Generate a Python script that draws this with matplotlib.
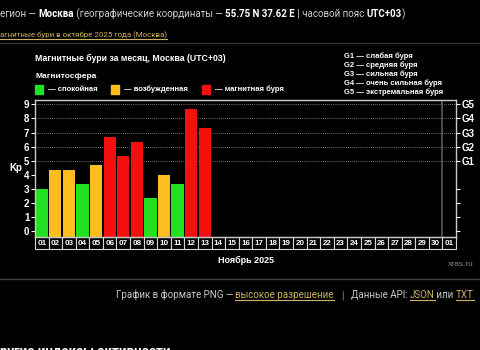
import matplotlib
matplotlib.use("Agg")
import matplotlib.pyplot as plt
from matplotlib.patches import Rectangle
from matplotlib.lines import Line2D
import matplotlib.transforms as mtransforms

# Kp index by day, November 2025
days = ["%02d" % d for d in range(1, 31)] + ["01"]
kp = [3.0, 4.33, 4.33, 3.33, 4.67, 6.67, 5.33, 6.33, 2.33, 4.0, 3.33, 8.67, 7.33]
state = ["q", "a", "a", "q", "a", "s", "s", "s", "q", "a", "q", "s", "s"]
colors = {"q": "#22e022", "a": "#fcbd1e", "s": "#f51010"}
legend_items = [("q", "— спокойная"), ("a", "— возбужденная"), ("s", "— магнитная буря")]
g_levels = ["G1 — слабая буря", "G2 — средняя буря", "G3 — сильная буря",
            "G4 — очень сильная буря", "G5 — экстремальная буря"]

W, H = 480, 350
fig = plt.figure(figsize=(4.8, 3.5), dpi=100, facecolor="black")
r = fig.canvas.get_renderer()
PAGE = "Roboto"
CH = "Liberation Sans"
GOLD = "#cdb45c"


def fx(x):
    return x / W


def fy(y):
    return 1 - y / H


def line_row(pieces, x, y, align="left", size=7.0):
    # pieces: (text, color, weight, underline)
    arts = []
    for txt, col, wt, ul in pieces:
        t = fig.text(0, fy(y), txt, color=col, fontweight=wt, fontsize=size,
                     family=PAGE, va="baseline", ha="left")
        arts.append((t, t.get_window_extent(r).width, ul, col))
    total = sum(a[1] for a in arts)
    cx = x - total if align == "right" else x
    for t, w, ul, col in arts:
        t.set_x(fx(cx))
        if ul:
            fig.add_artist(Line2D([fx(cx), fx(cx + w)],
                                  [fy(y + 2), fy(y + 2)], color=col, lw=0.8))
        cx += w
    return arts


# page header
line_row([("егион — ", "#d0d0d0", "normal", False),
          ("Москва", "white", "bold", False),
          (" (географические координаты — ", "#d0d0d0", "normal", False),
          ("55.75 N 37.62 E", "white", "bold", False),
          (" | часовой пояс ", "#d0d0d0", "normal", False),
          ("UTC+03", "white", "bold", False),
          (")", "#d0d0d0", "normal", False)], 0, 17, size=7.0)
line_row([("агнитные бури в октябре 2025 года (Москва)", GOLD, "normal", True)],
         0, 37, size=5.7)
fig.add_artist(Line2D([0, 1], [fy(43), fy(43)], color="#333333", lw=1))

# chart header
fig.text(fx(35), fy(58), "Магнитные бури за месяц, Москва (UTC+03)", color="white",
         fontsize=6.3, fontweight="bold", family=CH, va="center")
fig.text(fx(35), fy(76), "Магнитосфера", color="white", fontsize=6.0,
         fontweight="bold", family=CH, va="center")
for (key, lab), x0 in zip(legend_items, [35, 111, 202]):
    fig.add_artist(Rectangle((fx(x0), fy(94)), 8 / W, 9 / H, color=colors[key],
                             transform=fig.transFigure))
    fig.text(fx(x0 + 13), fy(89.5), lab, color="white", fontsize=5.5,
             fontweight="bold", family=CH, va="center")
for i, g in enumerate(g_levels):
    fig.text(fx(344), fy(56 + 9 * i), g, color="white", fontsize=5.5,
             fontweight="bold", family=CH, va="center")

# main plot
ax = fig.add_axes([fx(35), fy(236.5), (456 - 35) / W, (236.5 - 99.7) / H])
ax.set_facecolor("black")
ymin, ymax = -0.37, 9.33
ax.set_xlim(0.5, len(days) + 0.5)
ax.set_ylim(ymin, ymax)
for lv in range(5, 10):
    ax.axhline(lv, color="#9a9a9a", lw=0.6, ls=(0, (1, 1.5)), zorder=1)
xs = list(range(1, len(kp) + 1))
ax.bar(xs, [v - ymin for v in kp], bottom=ymin, width=0.9,
       color=[colors[s] for s in state], zorder=2)
ax.axvline(30.5, color="#5a5a5a", lw=1.2, zorder=1)
for sp in ax.spines.values():
    sp.set_color("#c8c8c8")
    sp.set_linewidth(1)
ax.set_xticks([])
ax.set_yticks(range(10))
ax.set_yticklabels([str(i) for i in range(10)], color="white", fontsize=7,
                   fontweight="bold", family=CH)
ax.tick_params(axis="y", colors="white", length=3, width=0.8, pad=1)
ax.set_ylabel("Kp", color="white", fontsize=7, fontweight="bold", family=CH,
              rotation=0, labelpad=6, va="center")

ax2 = ax.twinx()
ax2.set_ylim(ymin, ymax)
ax2.set_yticks([0, 1, 2, 3, 5, 6, 7, 8, 9])
ax2.set_yticklabels(["", "", "", "", "G1", "G2", "G3", "G4", "G5"], color="white",
                    fontsize=7, fontweight="bold", family=CH)
ax2.tick_params(axis="y", colors="white", length=3, width=0.8, pad=1)
for sp in ax2.spines.values():
    sp.set_visible(False)

# day label boxes under the axis
trans = mtransforms.blended_transform_factory(ax.transData, ax.transAxes)
bh = 12.5 / ((236.5 - 99.7))
for i, d in enumerate(days):
    x = i + 1
    ax.add_patch(Rectangle((x - 0.5, -bh), 1, bh, transform=trans, clip_on=False,
                           facecolor="black", edgecolor="#d8d8d8", lw=0.8))
    ax.text(x, -bh / 2 - 0.005, d, transform=trans, ha="center", va="center",
            color="white", fontsize=5.8, fontweight="bold", family=CH, clip_on=False)

fig.text(fx(246), fy(260), "Ноябрь 2025", color="white", fontsize=6.5,
         fontweight="bold", family=CH, ha="center", va="center")
fig.text(fx(474), fy(265), "xras.ru", color="#8a8a8a", fontsize=6.0,
         family=CH, ha="right", va="center")
fig.add_artist(Line2D([0, 1], [fy(279), fy(279)], color="#444444", lw=1))

line_row([("График в формате PNG — ", "#c8c8c8", "normal", False),
          ("высокое разрешение", GOLD, "normal", True),
          ("   ", "#c8c8c8", "normal", False),
          ("|", "#8a8a8a", "normal", False),
          ("   Данные API: ", "#c8c8c8", "normal", False),
          ("JSON", GOLD, "normal", True),
          (" или ", "#c8c8c8", "normal", False),
          ("TXT", GOLD, "normal", True)], 474, 298, size=7.0, align="right")

fig.text(fx(0), fy(345), "ругие индексы активности", color="white", fontsize=9.5,
         fontweight="bold", family=PAGE, va="top")

fig.savefig("out.png", dpi=100, facecolor="black")
